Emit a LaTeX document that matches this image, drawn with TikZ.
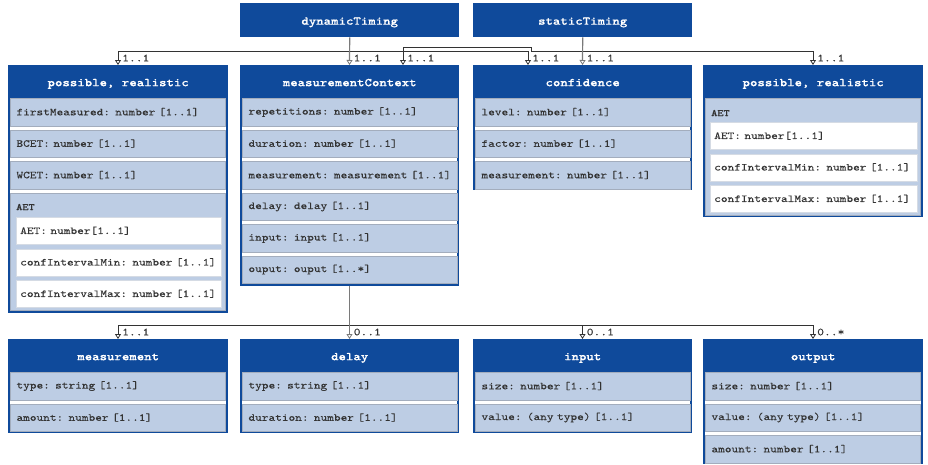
\documentclass[tikz,border=0pt]{standalone}
\usepackage{fontspec}
\newfontfamily\monof[FakeStretch=1.2, FakeBold=0.15, BoldFont=lmmonolt10-bold.otf, BoldFeatures={FakeBold=0.35}]{lmmono10-regular.otf}
\usetikzlibrary{arrows.meta,calc}
\definecolor{hdrblue}{HTML}{0F4A9B}
\definecolor{rowblue}{HTML}{BDCDE4}
\definecolor{rowgray}{HTML}{A3ADBD}
\definecolor{subgray}{HTML}{D5DBE4}
\definecolor{txtgray}{HTML}{333333}
\definecolor{linegray}{HTML}{333333}
\definecolor{trunkgray}{HTML}{7A7A7A}
\tikzset{
 classbox/.style={draw=hdrblue, line width=2pt, fill=white, inner sep=0pt, anchor=north west},
 hdr/.style={fill=hdrblue, text=white, font=\monof\bfseries\fontsize{11.8}{14}\selectfont, inner sep=0pt, text height=11pt, text depth=2pt, minimum height=33pt, anchor=north west},
 attr/.style={fill=rowblue, draw=rowgray, line width=0.6pt, minimum height=27.5pt, inner xsep=6pt, inner ysep=0pt, text width=203pt, align=left, anchor=north west, text=txtgray, font=\monof\fontsize{10.6}{13}\selectfont},
 sect/.style={fill=rowblue, draw=rowgray, line width=0.6pt, inner sep=0pt, minimum width=215pt, anchor=north west},
 sub/.style={fill=white, draw=subgray, line width=0.5pt, minimum height=27pt, inner xsep=4pt, inner ysep=0pt, text width=197pt, align=left, anchor=north west, text=txtgray, font=\monof\fontsize{10.6}{13}\selectfont},
 sectlabel/.style={anchor=west, inner sep=0pt, text=txtgray, font=\monof\bfseries\fontsize{9.8}{12}\selectfont},
 conn/.style={draw=linegray, line width=0.8pt},
 trunk/.style={draw=trunkgray, line width=1.2pt},
 mult/.style={anchor=west, inner sep=0pt, text=txtgray, font=\monof\fontsize{10.8}{12}\selectfont},
 >={Triangle[length=5pt,width=6pt,fill=white,line width=0.8pt]}
}
\begin{document}
\begin{tikzpicture}[x=1pt,y=-1pt]
\useasboundingbox (0,0) rectangle (928,464);
% ---------- top headers ----------
\node[hdr, minimum width=219pt, minimum height=34pt] (dyn) at (240,3) {dynamicTiming};
\node[hdr, minimum width=219pt, minimum height=34pt] (stat) at (473,3) {staticTiming};
% ---------- box 1 ----------
\node[classbox, minimum width=218pt, minimum height=246pt] (pr1) at (8,65) {};
\node[hdr, minimum width=220pt] (pr1h) at (8,65) {possible, realistic};
\node[attr] (pr1a) at (10.2,98) {firstMeasured: number [1..1]};
\node[attr] (pr1b) at (10.2,129.5) {BCET: number [1..1]};
\node[attr] (pr1c) at (10.2,161) {WCET: number [1..1]};
\node[sect, minimum height=117.5pt] (pr1s) at (10.2,192.5) {};
\node[sectlabel] (pr1l) at (16,207) {AET};
\node[sub] (pr1s1) at (16,217) {AET: number[1..1]};
\node[sub] (pr1s2) at (16,248.5) {confIntervalMin: number [1..1]};
\node[sub] (pr1s3) at (16,280) {confIntervalMax: number [1..1]};
% ---------- box 2 ----------
\node[classbox, minimum width=217pt, minimum height=218.5pt] (mc) at (240,65) {};
\node[hdr, minimum width=219pt] (mch) at (240,65) {measurementContext};
\node[attr] (mca) at (242.2,98) {repetitions: number [1..1]};
\node[attr] (mcb) at (242.2,129.5) {duration: number [1..1]};
\node[attr] (mcc) at (242.2,161) {measurement: measurement [1..1]};
\node[attr] (mcd) at (242.2,192.5) {delay: delay [1..1]};
\node[attr] (mce) at (242.2,224) {input: input [1..1]};
\node[attr] (mcf) at (242.2,255.5) {ouput: ouput [1..*]};
% ---------- box 3 ----------
\node[classbox, minimum width=217pt, minimum height=123pt] (conf) at (473,65) {};
\node[hdr, minimum width=219pt] (confh) at (473,65) {confidence};
\node[attr] (confa) at (475.2,98) {level: number [1..1]};
\node[attr] (confb) at (475.2,129.5) {factor: number [1..1]};
\node[attr] (confc) at (475.2,161) {measurement: number [1..1]};
% ---------- box 4 ----------
\node[classbox, minimum width=218pt, minimum height=150pt] (pr2) at (703,65) {};
\node[hdr, minimum width=220pt] (pr2h) at (703,65) {possible, realistic};
\node[sect, minimum height=117pt] (pr2s) at (705.2,98) {};
\node[sectlabel] (pr2l) at (711,113) {AET};
\node[sub, text width=199pt] (pr2s1) at (710,122) {AET: number[1..1]};
\node[sub, text width=199pt] (pr2s2) at (710,153.5) {confIntervalMin: number [1..1]};
\node[sub, text width=199pt] (pr2s3) at (710,185) {confIntervalMax: number [1..1]};
% ---------- bottom boxes ----------
\node[classbox, minimum width=218pt, minimum height=92pt] (ms) at (8,339) {};
\node[hdr, minimum width=220pt] (msh) at (8,339) {measurement};
\node[attr] (msa) at (10.2,372) {type: string [1..1]};
\node[attr] (msb) at (10.2,403.5) {amount: number [1..1]};
\node[classbox, minimum width=217pt, minimum height=92pt] (dl) at (240,339) {};
\node[hdr, minimum width=219pt] (dlh) at (240,339) {delay};
\node[attr] (dla) at (242.2,372) {type: string [1..1]};
\node[attr] (dlb) at (242.2,403.5) {duration: number [1..1]};
\node[classbox, minimum width=217pt, minimum height=92pt] (inp) at (473,339) {};
\node[hdr, minimum width=219pt] (inph) at (473,339) {input};
\node[attr] (inpa) at (475.2,372) {size: number [1..1]};
\node[attr] (inpb) at (475.2,403.5) {value: (any type) [1..1]};
\node[classbox, minimum width=218pt, minimum height=123pt] (out) at (703,339) {};
\node[hdr, minimum width=220pt] (outh) at (703,339) {output};
\node[attr] (outa) at (705.2,372) {size: number [1..1]};
\node[attr] (outb) at (705.2,403.5) {value: (any type) [1..1]};
\node[attr] (outc) at (705.2,435) {amount: number [1..1]};
% ---------- connectors top ----------
\coordinate (dynbus) at (0,51);
\coordinate (mcin) at ($(mc.north)+(53.5,0)$);
\coordinate (confin) at ($(conf.north)+(-54.5,0)$);
\coordinate (sb1) at (531,47);
\coordinate (sb2) at (531,51);
\draw[conn,<->] (pr1.north) -- (pr1.north |- dynbus) -- (confin |- dynbus) -- (confin);
\draw[conn,<->] (mcin) |- (sb1) -- (sb2) -| (pr2.north);
\draw[trunk,->] (dyn.south) -- (mc.north);
\draw[trunk,->] (stat.south) -- (conf.north);
\node[mult] (m1) at ($(pr1.north)+(4,-7)$) {1..1};
\node[mult] (m2) at ($(mc.north)+(4,-7)$) {1..1};
\node[mult] (m3) at ($(mcin)+(4,-7)$) {1..1};
\node[mult] (m4) at ($(confin)+(4,-7)$) {1..1};
\node[mult] (m5) at ($(conf.north)+(4,-7)$) {1..1};
\node[mult] (m6) at ($(pr2.north)+(4,-7)$) {1..1};
% ---------- connectors bottom ----------
\coordinate (botbus) at (0,325);
\draw[conn,<->] (ms.north) -- (ms.north |- botbus) -- (out.north |- botbus) -- (out.north);
\draw[conn,->] (inp.north |- botbus) -- (inp.north);
\draw[trunk,->] (mc.south) -- (dl.north);
\node[mult] (m7) at ($(ms.north)+(4,-7)$) {1..1};
\node[mult] (m8) at ($(dl.north)+(4,-7)$) {0..1};
\node[mult] (m9) at ($(inp.north)+(4,-7)$) {0..1};
\node[mult] (m10) at ($(out.north)+(4,-7)$) {0..*};
\end{tikzpicture}
\end{document}
